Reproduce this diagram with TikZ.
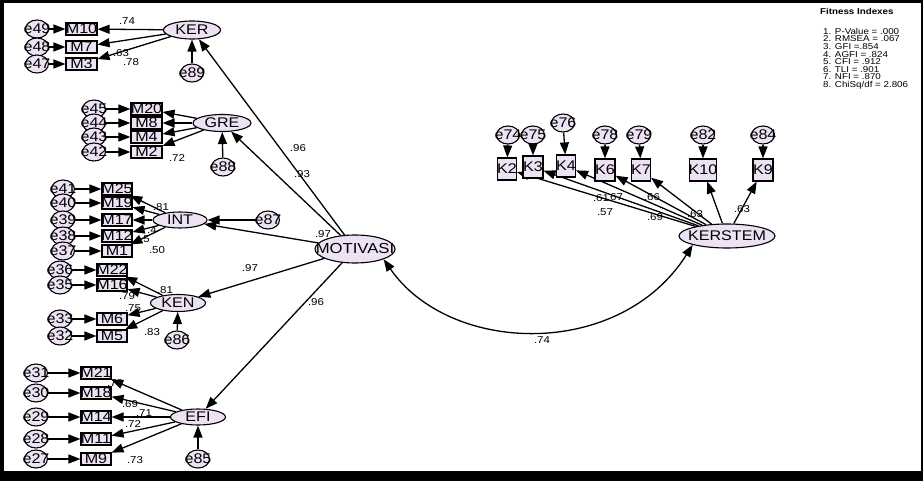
\documentclass[tikz,border=0pt]{standalone}
\usepackage{fontspec}
\setmainfont{Liberation Sans}[FakeStretch=1.15]
\usetikzlibrary{arrows.meta,shapes.geometric}
\definecolor{pfill}{RGB}{236,226,244}
\newcommand{\zb}[1]{\makebox[0pt]{#1}}
\tikzset{
  lat/.style={ellipse, draw, line width=1.1pt, fill=pfill, inner sep=0pt, font=\fontsize{14}{14}\selectfont},
  obs/.style={rectangle, draw, line width=1.1pt, fill=pfill, inner sep=0pt, minimum width=31pt, minimum height=12pt, font=\fontsize{14}{14}\selectfont},
  kobs/.style={obs, minimum width=19pt, minimum height=22pt},
  err/.style={ellipse, draw, line width=1.1pt, fill=pfill, inner sep=0pt, minimum width=23pt, minimum height=18pt, font=\fontsize{14}{14}\selectfont},
  arr/.style={line width=1.3pt, -{Triangle[length=12pt,width=9pt]}},
  dbl/.style={line width=1.3pt, {Triangle[length=12pt,width=9pt]}-{Triangle[length=12pt,width=9pt]}},
  coef/.style={font=\fontsize{10}{10}\selectfont, inner sep=0pt},
}
\begin{document}
\begin{tikzpicture}[x=1pt,y=-1pt]
\useasboundingbox (0,0) rectangle (923,481);
\fill[black] (0,0) rectangle (923,481);
\fill[white] (4,3) rectangle (921,471);

% KER
\node[lat, minimum width=57pt, minimum height=18pt] (KER) at (192,30) {\zb{KER}};
\foreach \n/\y/\e in {M10/29/e49, M7/47/e48, M3/64/e47}{
  \node[obs] (\n) at (81.5,\y) {\zb{\n}};
  \node[err] (\e) at (37,\y) {\zb{\e}};
  \draw[arr] (\e) -- (\n);
  \draw[arr] (KER) -- (\n);
}
\node[err] (e89) at (192,73) {\zb{e89}};
\draw[arr] (e89) -- (KER);

% GRE
\node[lat, minimum width=58pt, minimum height=17pt] (GRE) at (222,123) {\zb{GRE}};
\foreach \n/\y/\e in {M20/109/e45, M8/123/e44, M4/137/e43, M2/152/e42}{
  \node[obs] (\n) at (146.5,\y) {\zb{\n}};
  \node[err] (\e) at (94,\y) {\zb{\e}};
  \draw[arr] (\e) -- (\n);
  \draw[arr] (GRE) -- (\n);
}
\node[err] (e88) at (223,167) {\zb{e88}};
\draw[arr] (e88) -- (GRE);

% INT
\node[lat, minimum width=54pt, minimum height=16pt] (INT) at (180,220) {\zb{INT}};
\foreach \n/\y/\e in {M25/189/e41, M19/203/e40, M17/220/e39, M12/236/e38, M1/251/e37}{
  \node[obs, minimum width=30pt] (\n) at (117,\y) {\zb{\n}};
  \node[err] (\e) at (63,\y) {\zb{\e}};
  \draw[arr] (\e) -- (\n);
  \draw[arr] (INT) -- (\n);
}
\node[err] (e87) at (268,220) {\zb{e87}};
\draw[arr] (e87) -- (INT);

% KEN
\node[lat, minimum width=55pt, minimum height=17pt] (KEN) at (178,303) {\zb{KEN}};
\foreach \n/\y/\e in {M22/270/e36, M16/285/e35, M6/319/e33, M5/336/e32}{
  \node[obs, minimum width=30pt] (\n) at (112,\y) {\zb{\n}};
  \node[err] (\e) at (60,\y) {\zb{\e}};
  \draw[arr] (\e) -- (\n);
  \draw[arr] (KEN) -- (\n);
}
\node[err] (e86) at (177,340) {\zb{e86}};
\draw[arr] (e86) -- (KEN);

% EFI
\node[lat, minimum width=55pt, minimum height=16pt] (EFI) at (198,417) {\zb{EFI}};
\foreach \n/\y/\e in {M21/373/e31, M18/393/e30, M14/417/e29, M11/439/e28, M9/459/e27}{
  \node[obs, minimum width=30pt] (\n) at (96,\y) {\zb{\n}};
  \node[err] (\e) at (36,\y) {\zb{\e}};
  \draw[arr] (\e) -- (\n);
  \draw[arr] (EFI) -- (\n);
}
\node[err] (e85) at (198,459) {\zb{e85}};
\draw[arr] (e85) -- (EFI);

% MOTIVASI
\node[lat, minimum width=80pt, minimum height=28pt, font=\fontsize{14.5}{14.5}\selectfont] (MOT) at (355,249) {\zb{MOTIVASI}};
\foreach \t in {KER, GRE, INT, KEN, EFI}{ \draw[arr] (MOT) -- (\t); }

% KERSTEM
\node[lat, minimum width=96pt, minimum height=24pt] (KERSTEM) at (727,236) {\zb{KERSTEM}};
\foreach \n/\x/\y/\e/\ex/\ey/\w in {K2/507/169/e74/508/135/19, K3/533/167/e75/533/135/20, K4/566/166/e76/563/123/19, K6/605/170/e78/605/135/20, K7/641/170/e79/639/135/19, K10/703/170/e82/703/135/27, K9/763/170/e84/763/135/20}{
  \node[kobs, minimum width=\w pt] (\n) at (\x,\y) {\zb{\n}};
  \node[err] (\e) at (\ex,\ey) {\zb{\e}};
  \draw[arr] (\e) -- (\n);
  \draw[arr] (KERSTEM) -- (\n);
}

% covariance
\draw[dbl] (MOT.south east) .. controls (450,355) and (620,360) .. (KERSTEM.south west);

% coefficients
\foreach [count=\i] \t/\x/\y in {
  .74/127/21, .63/121/53, .78/131/62,
  .72/177/158,
  .81/161/207, .4/152/230, .5/145/239, .50/157/250,
  .81/165/290, .79/127/296, .75/133/308, .83/152/332,
  .79/115/383, .69/130/404, .71/144/413, .72/133/424, .73/135/460,
  .96/298/148, .93/302/174, .97/323/234, .97/250/268, .96/316/302,
  .61/601/198, .67/615/197, .57/605/212, .66/652/197, .69/655/217, .63/695/214, .63/742/209,
  .74/542/340}{
  \node[coef] (c\i) at (\x,\y) {\t};
}

% fitness
\node[anchor=west, inner sep=0pt, font=\bfseries\fontsize{8.5}{9}\selectfont] (fit) at (820,11) {Fitness Indexes};
\node[anchor=north west, align=left, inner sep=0pt, font=\fontsize{8.5}{7.6}\selectfont] (fitl) at (823,28)
 {1. P-Value = .000\\2. RMSEA = .067\\3. GFI =.854\\4. AGFI = .824\\5. CFI = .912\\6. TLI = .901\\7. NFI = .870\\8. ChiSq/df = 2.806};
\end{tikzpicture}
\end{document}
